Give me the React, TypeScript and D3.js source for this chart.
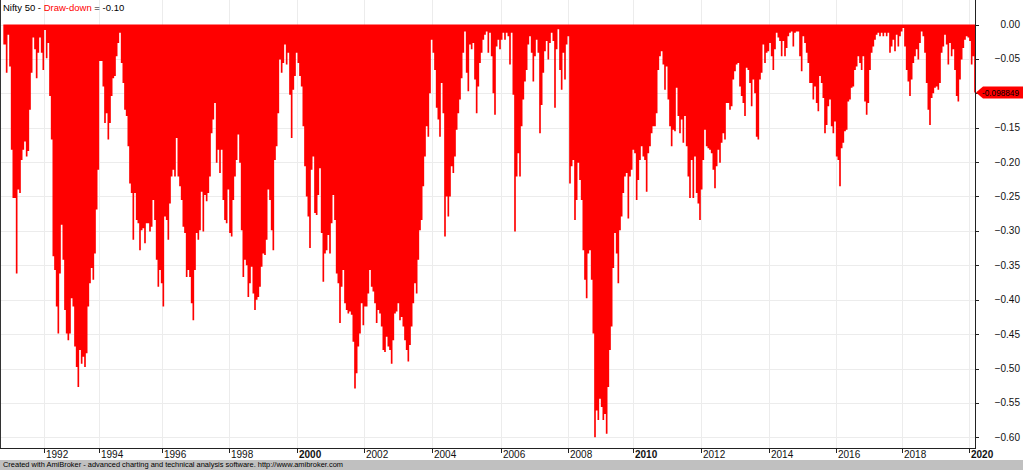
import React from "react";
import * as d3 from "d3";

// Drawdown depth (positive magnitude) of Nifty 50, sampled uniformly over trading sessions
const drawdownA = [
  0.029, 0.029, 0.070, 0.015, 0.061, 0.182, 0.252, 0.252, 0.362, 0.240,
  0.245, 0.197, 0.182, 0.170, 0.192, 0.184, 0.124, 0.070, 0.019, 0.036,
  0.078, 0.041, 0.019, 0.041, 0.066, 0.008, 0.049, 0.027, 0.104, 0.167,
  0.337, 0.357, 0.410, 0.449, 0.362, 0.291, 0.342, 0.415, 0.449, 0.459,
  0.449, 0.398, 0.410, 0.468, 0.498, 0.527, 0.473, 0.493, 0.483, 0.498,
  0.478, 0.410, 0.376, 0.354, 0.371, 0.333, 0.269, 0.211, 0.053, 0.053,
  0.090, 0.143, 0.129, 0.167, 0.143, 0.104, 0.078, 0.075, 0.046, 0.027,
  0.012, 0.056, 0.085, 0.124, 0.133, 0.177, 0.231, 0.245, 0.313, 0.245,
  0.284, 0.289, 0.328, 0.299, 0.296, 0.318, 0.289, 0.289, 0.301, 0.294,
  0.255, 0.284, 0.342, 0.381, 0.357, 0.376, 0.410, 0.279, 0.284, 0.313,
  0.260, 0.221, 0.211, 0.221, 0.165, 0.221, 0.235, 0.255, 0.294, 0.303,
  0.367, 0.357, 0.367, 0.405, 0.430, 0.357, 0.303, 0.313, 0.299, 0.243,
  0.301, 0.248, 0.257, 0.245, 0.221, 0.158, 0.138, 0.114, 0.201, 0.182,
  0.216, 0.182, 0.255, 0.284, 0.289, 0.240, 0.303, 0.308, 0.255, 0.221,
  0.197, 0.160, 0.201, 0.299, 0.367, 0.342,
];
const drawdownB = [
  0.350, 0.396, 0.376, 0.352, 0.391, 0.415, 0.400, 0.396, 0.381, 0.352,
  0.333, 0.335, 0.313, 0.240, 0.255, 0.299, 0.328, 0.197, 0.177, 0.129,
  0.051, 0.070, 0.056, 0.029, 0.058, 0.041, 0.102, 0.165, 0.095, 0.075,
  0.041, 0.056, 0.075, 0.090, 0.148, 0.206, 0.250, 0.279, 0.325, 0.211,
  0.192, 0.274, 0.277, 0.248, 0.209, 0.303, 0.374, 0.333, 0.328, 0.306,
  0.333, 0.289, 0.248, 0.284, 0.362, 0.376, 0.434, 0.381, 0.357, 0.405,
  0.415, 0.420, 0.417, 0.422, 0.461, 0.529, 0.507, 0.468, 0.449, 0.405,
  0.437, 0.410, 0.410, 0.391, 0.357, 0.381, 0.388, 0.405, 0.434, 0.415,
  0.420, 0.439, 0.473, 0.476, 0.454, 0.468, 0.473, 0.493, 0.459, 0.420,
  0.417, 0.405, 0.430, 0.425, 0.439, 0.459, 0.473, 0.490, 0.466, 0.439,
  0.405, 0.376, 0.391, 0.342, 0.299, 0.284, 0.235, 0.192, 0.148, 0.163,
  0.100, 0.022, 0.041, 0.066, 0.121, 0.138, 0.163, 0.085, 0.129, 0.308,
  0.250, 0.279, 0.250, 0.206, 0.216, 0.192, 0.153, 0.129, 0.109, 0.078,
  0.041, 0.010, 0.070, 0.097, 0.029, 0.036, 0.027, 0.080, 0.129, 0.090,
  0.056, 0.041, 0.022, 0.015, 0.010, 0.041,
];
const drawdownC = [
  0.012, 0.046, 0.100, 0.131, 0.032, 0.022, 0.036, 0.022, 0.012, 0.022,
  0.012, 0.017, 0.058, 0.012, 0.102, 0.301, 0.221, 0.187, 0.221, 0.148,
  0.109, 0.083, 0.066, 0.029, 0.017, 0.041, 0.083, 0.046, 0.022, 0.041,
  0.158, 0.117, 0.070, 0.039, 0.024, 0.051, 0.027, 0.012, 0.024, 0.121,
  0.036, 0.007, 0.066, 0.095, 0.041, 0.080, 0.029, 0.017, 0.231, 0.206,
  0.197, 0.284, 0.255, 0.201, 0.226, 0.255, 0.328, 0.371, 0.398, 0.333,
  0.328, 0.371, 0.449, 0.600, 0.561, 0.575, 0.544, 0.556, 0.575, 0.566,
  0.595, 0.527, 0.473, 0.439, 0.354, 0.303, 0.333, 0.376, 0.299, 0.279,
  0.245, 0.221, 0.216, 0.282, 0.221, 0.211, 0.182, 0.187, 0.255, 0.226,
  0.197, 0.177, 0.192, 0.197, 0.243, 0.187, 0.177, 0.158, 0.148, 0.148,
  0.129, 0.066, 0.046, 0.039, 0.058, 0.095, 0.061, 0.109, 0.148, 0.177,
  0.153, 0.155, 0.092, 0.133, 0.158, 0.138, 0.172, 0.133, 0.177, 0.221,
  0.252, 0.197, 0.252, 0.192, 0.245, 0.260, 0.284, 0.240, 0.197, 0.153,
  0.177, 0.180, 0.182, 0.187, 0.211, 0.238, 0.206, 0.182, 0.201, 0.172,
  0.158, 0.167, 0.114, 0.114, 0.124, 0.119,
];
const drawdownD = [
  0.080, 0.068, 0.058, 0.056, 0.090, 0.104, 0.114, 0.133, 0.063, 0.066,
  0.085, 0.119, 0.080, 0.100, 0.163, 0.167, 0.080, 0.070, 0.029, 0.056,
  0.041, 0.039, 0.027, 0.046, 0.066, 0.036, 0.012, 0.019, 0.024, 0.046,
  0.024, 0.046, 0.034, 0.017, 0.012, 0.010, 0.032, 0.012, 0.010, 0.010,
  0.046, 0.068, 0.017, 0.027, 0.041, 0.056, 0.085, 0.085, 0.109, 0.090,
  0.114, 0.126, 0.075, 0.085, 0.107, 0.158, 0.146, 0.119, 0.109, 0.148,
  0.158, 0.141, 0.192, 0.197, 0.235, 0.180, 0.172, 0.155, 0.153, 0.112,
  0.109, 0.092, 0.090, 0.066, 0.061, 0.046, 0.056, 0.066, 0.046, 0.112,
  0.131, 0.114, 0.066, 0.041, 0.032, 0.022, 0.015, 0.012, 0.017, 0.012,
  0.017, 0.012, 0.017, 0.012, 0.041, 0.032, 0.022, 0.039, 0.015, 0.032,
  0.017, 0.010, 0.005, 0.032, 0.066, 0.083, 0.104, 0.080, 0.056, 0.046,
  0.036, 0.051, 0.027, 0.010, 0.017, 0.041, 0.085, 0.124, 0.146, 0.107,
  0.100, 0.092, 0.090, 0.095, 0.085, 0.041, 0.032, 0.015, 0.029, 0.058,
  0.027, 0.046, 0.036, 0.066, 0.104, 0.112, 0.080, 0.051, 0.034, 0.022,
  0.017, 0.019, 0.024, 0.058, 0.046, 0.0988,
];

// Year labels and the session index where each year begins
const yearLabels = ["1992", "1994", "1996", "1998", "2000", "2002", "2004", "2006", "2008", "2010", "2012", "2014", "2016", "2018", "2020"];
const yearStartIndex = [24.6, 57.6, 95.2, 135.2, 176.0, 216.6, 257.4, 298.4, 339.0, 378.0, 418.6, 459.6, 499.4, 539.4, 579.4];
const boldYears = ["2000", "2010", "2020"];

const yTickValues = [0, -0.05, -0.1, -0.15, -0.2, -0.25, -0.3, -0.35, -0.4, -0.45, -0.5, -0.55, -0.6];

const tickerName = "Nifty 50";
const seriesName = "Draw-down";
const titleValue = "-0.10";
const lastValue = -0.098849;
const footerText = "Created with AmiBroker - advanced charting and technical analysis software. http://www.amibroker.com";

const FONT = "'Liberation Sans', Arial, Helvetica, sans-serif";

export default function App() {
  const W = 1023;
  const H = 470;
  const data = [...drawdownA, ...drawdownB, ...drawdownC, ...drawdownD];

  const plotLeft = 3.33;
  const plotRight = 975;
  const axisY = 448;

  const x = d3.scaleLinear().domain([0, data.length - 1]).range([plotLeft, plotRight]);
  const y = d3.scaleLinear().domain([-0.6, 0]).range([437.3, 24.5]);

  const areaGen = d3
    .area<number>()
    .x((_, i) => x(i))
    .y0(y(0))
    .y1((d) => y(-d))
    .curve(d3.curveStep);

  const fmt = d3.format(".2f");
  const ly = y(lastValue);

  return (
    <svg
      width={W}
      height={H}
      viewBox={`0 0 ${W} ${H}`}
      style={{ position: "absolute", left: 0, top: 0, background: "#fff" }}
      fontFamily={FONT}
    >
      <rect x={0} y={0} width={W} height={H} fill="#ffffff" />
      {/* horizontal grid */}
      {yTickValues.map((v) => (
        <line key={"hg" + v} x1={0} x2={plotRight} y1={Math.round(y(v)) + 0.5} y2={Math.round(y(v)) + 0.5} stroke="#ececec" strokeWidth={1} />
      ))}
      {/* vertical grid */}
      {yearStartIndex.map((idx, i) => (
        <line key={"vg" + i} x1={Math.round(x(idx)) + 0.5} x2={Math.round(x(idx)) + 0.5} y1={0} y2={axisY} stroke="#ececec" strokeWidth={1} />
      ))}
      {/* drawdown area */}
      <path d={areaGen(data) || ""} fill="#ff0000" stroke="none" />

      {/* axes frame */}
      <line x1={0.5} x2={0.5} y1={0} y2={axisY} stroke="#333" strokeWidth={1} />
      <line x1={0} x2={plotRight + 0.5} y1={axisY + 0.5} y2={axisY + 0.5} stroke="#222" strokeWidth={1} />
      <line x1={plotRight + 0.5} x2={plotRight + 0.5} y1={0} y2={axisY + 1} stroke="#222" strokeWidth={1} />

      {/* right axis ticks and labels (label hidden where the last-value marker sits) */}
      {yTickValues.map((v) => (
        <g key={"yt" + v}>
          <line x1={plotRight} x2={plotRight + 4} y1={Math.round(y(v)) + 0.5} y2={Math.round(y(v)) + 0.5} stroke="#222" strokeWidth={1} />
          {Math.abs(y(v) - ly) > 9 && (
            <text x={1020} y={y(v)} dy="0.35em" textAnchor="end" fontSize={10} fill="#111">
              {fmt(v)}
            </text>
          )}
        </g>
      ))}

      {/* x axis ticks and labels */}
      {yearStartIndex.map((idx, i) => {
        const tx = Math.round(x(idx)) + 0.5;
        const label = yearLabels[i];
        return (
          <g key={"xt" + i}>
            <line x1={tx} x2={tx} y1={axisY} y2={axisY + 5} stroke="#222" strokeWidth={1} />
            <text x={tx + 1.5} y={457.5} fontSize={10} fill="#111" fontWeight={boldYears.includes(label) ? "bold" : "normal"}>
              {label}
            </text>
          </g>
        );
      })}

      {/* last value marker */}
      <polygon
        points={`${plotRight + 1},${ly} ${plotRight + 8},${ly - 6} ${W},${ly - 6} ${W},${ly + 6} ${plotRight + 8},${ly + 6}`}
        fill="#ff0000"
      />
      <text x={plotRight + 7} y={ly} dy="0.35em" fontSize={9} fill="#000" textLength={W - plotRight - 11} lengthAdjust="spacingAndGlyphs">
        {String(lastValue)}
      </text>

      {/* title */}
      <text x={3} y={11} fontSize={9.5} fill="#000">
        <tspan>{tickerName} - </tspan>
        <tspan fill="#ff0000">{seriesName}</tspan>
        <tspan> = {titleValue}</tspan>
      </text>

      {/* footer */}
      <rect x={0} y={460} width={W} height={H - 460} fill="#c0c0c0" />
      <text x={3} y={467} fontSize={7.5} fill="#000" textLength={340} lengthAdjust="spacingAndGlyphs">
        {footerText}
      </text>
    </svg>
  );
}
